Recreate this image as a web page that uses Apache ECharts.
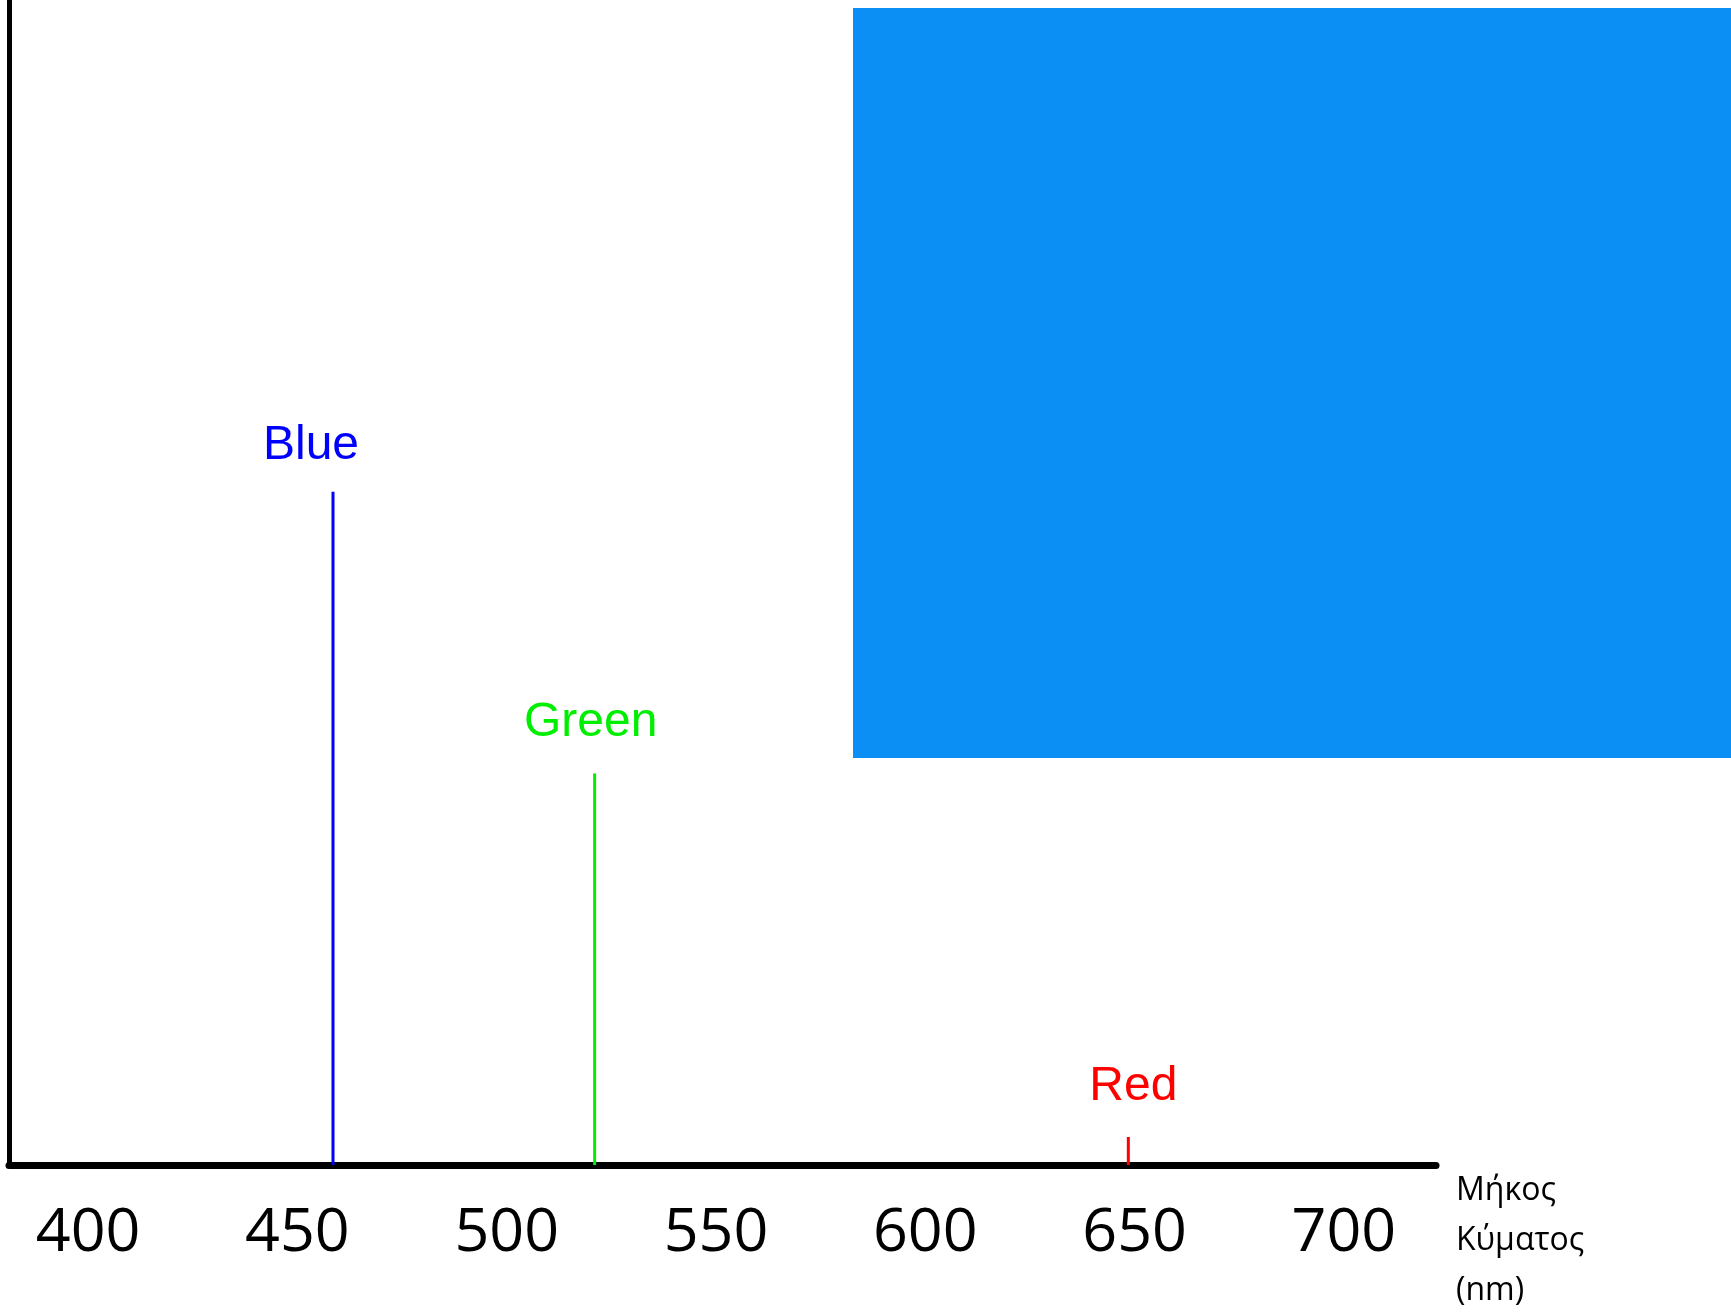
<!DOCTYPE html>
<html>
<head>
<meta charset="utf-8">
<script src="https://cdn.jsdelivr.net/npm/echarts@6/dist/echarts.min.js"></script>
<style>
html,body{margin:0;padding:0;background:#fff;}
#chart{width:1731px;height:1316px;}
</style>
</head>
<body>
<div id="chart"></div>
<script>
// Data
var peakNames = ['Blue', 'Green', 'Red'];
var peakWavelengths = [458.5, 521, 648.5];
var peakHeights = [57.8, 33.6, 2.4];
var peakColors = ['#0000ff', '#00ee00', '#ff0000'];
var labelOffsets = [[-22, -46], [-4, -51], [5, -50]];
var tickLabels = [400, 450, 500, 550, 600, 650, 700];
var axisTitle = 'Μήκος\nΚύματος\n(nm)';

var chart = echarts.init(document.getElementById('chart'), null, {renderer: 'canvas'});

var series = [];
peakNames.forEach(function (name, i) {
  series.push({
    name: name,
    type: 'line',
    data: [[peakWavelengths[i], 0], [peakWavelengths[i], peakHeights[i]]],
    symbol: 'none',
    lineStyle: {color: peakColors[i], width: 3, opacity: 1},
    silent: true,
    z: 3
  });
  series.push({
    name: name + ' label',
    type: 'scatter',
    data: [[peakWavelengths[i], peakHeights[i]]],
    symbolSize: 0,
    silent: true,
    itemStyle: {opacity: 1, color: peakColors[i]},
    label: {
      show: true,
      position: 'inside',
      formatter: name,
      offset: labelOffsets[i],
      color: peakColors[i],
      opacity: 1,
      fontFamily: 'Liberation Sans, Arial, sans-serif',
      fontSize: 48,
      align: 'center',
      verticalAlign: 'middle'
    }
  });
});

chart.setOption({
  animation: false,
  backgroundColor: '#ffffff',
  graphic: [{
    type: 'rect',
    shape: {x: 853, y: 8, width: 878, height: 750},
    style: {fill: '#0b8ff5'},
    z: 0
  }],
  grid: {left: 9, right: 295, top: 0, bottom: 144, containLabel: false},
  xAxis: {
    type: 'value',
    min: 381.1,
    max: 722,
    name: axisTitle,
    nameLocation: 'end',
    nameGap: 20,
    nameTextStyle: {
      color: '#000',
      fontFamily: 'Open Sans, sans-serif',
      fontSize: 32,
      lineHeight: 50,
      align: 'left',
      verticalAlign: 'top',
      padding: [1, 0, 0, 0]
    },
    axisLine: {lineStyle: {color: '#000', width: 7}},
    axisTick: {show: false},
    splitLine: {show: false},
    axisLabel: {
      customValues: tickLabels,
      color: '#000',
      fontFamily: 'Open Sans, sans-serif',
      fontSize: 61,
      lineHeight: 62,
      margin: 38
    }
  },
  yAxis: {
    type: 'value',
    min: 0,
    max: 100,
    axisLine: {show: true, lineStyle: {color: '#000', width: 5}},
    axisTick: {show: false},
    axisLabel: {show: false},
    splitLine: {show: false}
  },
  series: series
});
</script>
</body>
</html>
